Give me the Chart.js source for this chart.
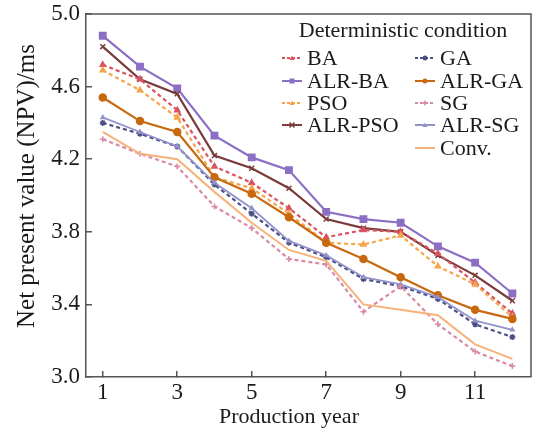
<!DOCTYPE html>
<html>
<head>
<meta charset="utf-8">
<script src="https://cdn.jsdelivr.net/npm/chart.js@4.4.1/dist/chart.umd.min.js"></script>
<style>
  body { margin: 0; background: #fff; }
  #wrap { width: 537px; height: 432px; }
</style>
</head>
<body>
<div id="wrap"><canvas id="npvChart" width="537" height="432"></canvas></div>
<script>
// production years
var years = [1, 2, 3, 4, 5, 6, 7, 8, 9, 10, 11, 12];
var xTicks = [1, 3, 5, 7, 9, 11];
var yTicks = [3.0, 3.4, 3.8, 4.2, 4.6, 5.0];

// NPV per algorithm
var baVals     = [4.72, 4.64, 4.47, 4.16, 4.07, 3.93, 3.77, 3.81, 3.80, 3.68, 3.52, 3.35];
var alrBaVals  = [4.88, 4.71, 4.59, 4.33, 4.21, 4.14, 3.91, 3.87, 3.85, 3.72, 3.63, 3.46];
var psoVals    = [4.69, 4.58, 4.43, 4.10, 4.04, 3.90, 3.74, 3.73, 3.78, 3.61, 3.51, 3.33];
var alrPsoVals = [4.82, 4.64, 4.56, 4.22, 4.15, 4.04, 3.87, 3.82, 3.80, 3.67, 3.56, 3.42];
var gaVals     = [4.40, 4.34, 4.27, 4.06, 3.90, 3.74, 3.66, 3.54, 3.50, 3.43, 3.29, 3.22];
var alrGaVals  = [4.54, 4.41, 4.35, 4.10, 4.01, 3.88, 3.74, 3.65, 3.55, 3.45, 3.37, 3.32];
var sgVals     = [4.31, 4.23, 4.16, 3.94, 3.82, 3.65, 3.62, 3.36, 3.50, 3.29, 3.14, 3.06];
var alrSgVals  = [4.43, 4.35, 4.27, 4.07, 3.93, 3.75, 3.67, 3.55, 3.51, 3.44, 3.31, 3.26];
var convVals   = [4.35, 4.23, 4.20, 4.02, 3.85, 3.70, 3.64, 3.40, 3.37, 3.34, 3.18, 3.10];

var serif = "'Liberation Serif', 'Times New Roman', serif";
var txtColor = "#1a1a1a";
var axisColor = "#555555";

function mkSet(label, data, color, dashed, marker, radius, width) {
  return {
    label: label,
    data: data,
    borderColor: color,
    backgroundColor: color,
    borderWidth: width || 2.2,
    borderDash: dashed ? [4, 3] : [],
    pointStyle: marker,
    pointRadius: radius,
    pointBorderWidth: 1.5,
    pointBorderColor: color,
    pointBackgroundColor: color,
    tension: 0,
    fill: false
  };
}

var datasets = [
  mkSet("Conv.", convVals, "#f6b27a", false, "line", 0, 2),
  mkSet("SG", sgVals, "#d98aa5", true, "cross", 3),
  mkSet("ALR-SG", alrSgVals, "#9393cc", false, "triangle", 2, 1.8),
  mkSet("GA", gaVals, "#4b4f86", true, "star", 3),
  mkSet("ALR-GA", alrGaVals, "#c8690f", false, "circle", 3.5),
  mkSet("PSO", psoVals, "#f5a54a", true, "triangle", 3),
  mkSet("BA", baVals, "#d9545f", true, "triangle", 3),
  mkSet("ALR-PSO", alrPsoVals, "#7b3b3b", false, "crossRot", 3.5),
  mkSet("ALR-BA", alrBaVals, "#8c6fc4", false, "rect", 4.5)
];

// legend layout: two columns like the original
var legendCols = [["BA", "ALR-BA", "PSO", "ALR-PSO"], ["GA", "ALR-GA", "SG", "ALR-SG", "Conv."]];

function drawMarker(ctx, style, x, y, r) {
  ctx.beginPath();
  if (style == "circle") {
    ctx.arc(x, y, r, 0, Math.PI * 2);
    ctx.fill();
  } else if (style == "rect") {
    ctx.fillRect(x - r, y - r, 2 * r, 2 * r);
  } else if (style == "triangle") {
    ctx.moveTo(x, y - r);
    ctx.lineTo(x + r, y + r * 0.8);
    ctx.lineTo(x - r, y + r * 0.8);
    ctx.closePath();
    ctx.fill();
  } else if (style == "cross" || style == "star") {
    ctx.moveTo(x - r, y); ctx.lineTo(x + r, y);
    ctx.moveTo(x, y - r); ctx.lineTo(x, y + r);
    if (style == "star") {
      ctx.moveTo(x - r * 0.7, y - r * 0.7); ctx.lineTo(x + r * 0.7, y + r * 0.7);
      ctx.moveTo(x + r * 0.7, y - r * 0.7); ctx.lineTo(x - r * 0.7, y + r * 0.7);
    }
    ctx.stroke();
  } else if (style == "crossRot") {
    ctx.moveTo(x - r, y - r); ctx.lineTo(x + r, y + r);
    ctx.moveTo(x + r, y - r); ctx.lineTo(x - r, y + r);
    ctx.stroke();
  }
}

var frameAndLegend = {
  id: "frameAndLegend",
  afterDatasetsDraw: function(chart) {
    var ctx = chart.ctx;
    var a = chart.chartArea;
    ctx.save();
    // box around plot
    ctx.strokeStyle = axisColor;
    ctx.lineWidth = 1.5;
    ctx.beginPath();
    ctx.moveTo(a.left, a.top);
    ctx.lineTo(a.right, a.top);
    ctx.lineTo(a.right, a.bottom);
    ctx.stroke();

    // axis titles (placed like the original, a bit off-centre)
    ctx.fillStyle = txtColor;
    ctx.textAlign = "center";
    ctx.textBaseline = "middle";
    ctx.font = "22px " + serif;
    ctx.fillText("Production year", 289, 417);
    ctx.save();
    ctx.translate(27, 186);
    ctx.rotate(-Math.PI / 2);
    ctx.font = "25px " + serif;
    ctx.fillText("Net present value (NPV)/ms", 0, 0);
    ctx.restore();

    // legend
    ctx.font = "22px " + serif;
    ctx.fillText("Deterministic condition", 403, 31);

    var colX = [282, 415];
    var rowY = [58, 81, 103, 125, 148];
    ctx.textAlign = "left";
    for (var c = 0; c < legendCols.length; c++) {
      for (var r = 0; r < legendCols[c].length; r++) {
        var ds = datasets.filter(function(d) { return d.label == legendCols[c][r]; })[0];
        var x0 = colX[c], y0 = rowY[r];
        ctx.strokeStyle = ds.borderColor;
        ctx.fillStyle = ds.borderColor;
        ctx.lineWidth = 2;
        ctx.setLineDash(ds.borderDash.length ? [3, 2] : []);
        ctx.beginPath();
        ctx.moveTo(x0, y0);
        ctx.lineTo(x0 + 20, y0);
        ctx.stroke();
        ctx.setLineDash([]);
        ctx.lineWidth = 1.5;
        if (ds.pointRadius > 0) drawMarker(ctx, ds.pointStyle, x0 + 10, y0, 2.5);
        ctx.fillStyle = txtColor;
        ctx.font = "22px " + serif;
        ctx.fillText(ds.label, x0 + 25, y0 + 1);
      }
    }
    ctx.restore();
  }
};

new Chart(document.getElementById("npvChart"), {
  type: "line",
  data: {
    labels: years,
    datasets: datasets
  },
  options: {
    responsive: false,
    animation: false,
    layout: { padding: { top: 14, right: 2, left: 0, bottom: 0 } },
    plugins: {
      legend: { display: false },
      tooltip: { enabled: false }
    },
    scales: {
      x: {
        type: "linear",
        min: 0.55,
        max: 12.5,
        afterBuildTicks: function(scale) {
          scale.ticks = xTicks.map(function(v) { return { value: v }; });
        },
        afterFit: function(scale) {
          scale.height = 55;
          scale.paddingLeft = 0;
          scale.paddingRight = 0;
        },
        grid: { drawOnChartArea: false, tickLength: -6, color: axisColor, lineWidth: 1.5 },
        border: { color: axisColor, width: 1.5 },
        ticks: {
          color: txtColor,
          font: { family: serif, size: 23 },
          padding: 8,
          maxRotation: 0,
          callback: function(v) { return v; }
        }
      },
      y: {
        min: 3.0,
        max: 5.0,
        afterBuildTicks: function(scale) {
          scale.ticks = yTicks.map(function(v) { return { value: v }; });
        },
        afterFit: function(scale) {
          scale.width = 86;
          scale.paddingTop = 0;
          scale.paddingBottom = 0;
        },
        grid: { drawOnChartArea: false, tickLength: -6, color: axisColor, lineWidth: 1.5 },
        border: { color: axisColor, width: 1.5 },
        ticks: {
          color: txtColor,
          font: { family: serif, size: 23 },
          padding: 12,
          callback: function(v) { return v.toFixed(1); }
        }
      }
    }
  },
  plugins: [frameAndLegend]
});
</script>
</body>
</html>
